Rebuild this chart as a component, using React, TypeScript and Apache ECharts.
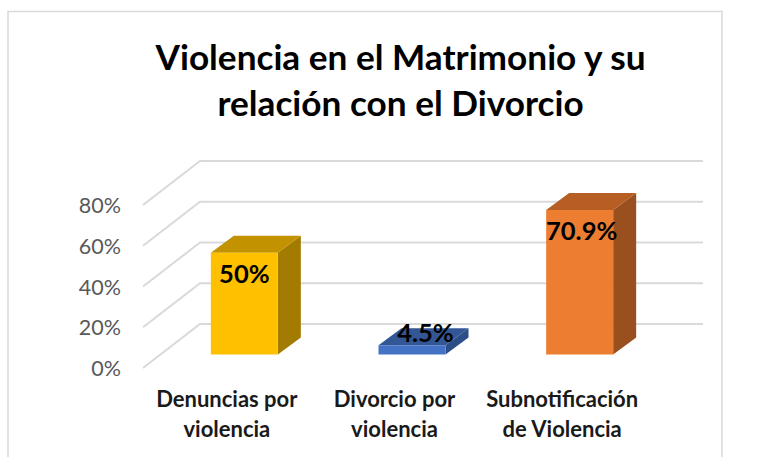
import React, { useEffect, useRef } from "react";
import * as echarts from "echarts";

const titleText = "Violencia en el Matrimonio y su\nrelación con el Divorcio";
const categories = ["Denuncias por\nviolencia", "Divorcio por\nviolencia", "Subnotificación\nde Violencia"];
const values = [50, 4.5, 70.9];
const valueLabels = ["50%", "4.5%", "70.9%"];
const ticks = [0, 20, 40, 60, 80];
const faceColors = ["#FFC000", "#4472C4", "#ED7D31"];
const topColors = ["#C29200", "#335694", "#B65E24"];
const sideColors = ["#A37B00", "#2C4D88", "#994F1E"];
const labelShiftX = [0, 13.5, 2];
const labelShiftY = [20.5, -13, 20];

const FONT = "Lato, Carlito, Calibri, sans-serif";
const GRID = { left: 143, top: 205, width: 503, height: 163 };
const WALL_DX = 57;
const WALL_DY = -44;
const WALL_RIGHT = 703;
const BAR_DX = 17.5;
const BAR_DY = -13.5;
const BAR_W = 67;
const DEPTH_X = 23;
const DEPTH_Y = -17;

export default function App() {
  const ref = useRef<HTMLDivElement>(null);
  useEffect(() => {
    const chart = echarts.init(ref.current!, undefined, { renderer: "svg" });
    chart.setOption({
      animation: false,
      backgroundColor: "#fff",
      title: {
        text: titleText,
        left: 395.5,
        top: 28,
        textAlign: "center",
        textStyle: { fontFamily: FONT, fontSize: 35.2, fontWeight: "bold", color: "#000", lineHeight: 46 },
      },
      graphic: [
        {
          type: "polyline",
          silent: true,
          z: 0,
          shape: { points: [[8, 470], [8, 11.5], [722, 11.5], [722, 470]] },
          style: { stroke: "#D9D9D9", lineWidth: 1.5, fill: "none" },
        },
      ],
      grid: { ...GRID, containLabel: false },
      xAxis: {
        type: "category",
        data: categories,
        axisLine: { show: false },
        axisTick: { show: false },
        axisLabel: {
          interval: 0,
          margin: 15,
          fontFamily: FONT,
          fontSize: 22,
          fontWeight: "bold",
          color: "#1a1a1a",
          lineHeight: 30,
        },
      },
      yAxis: {
        type: "value",
        min: 0,
        max: 80,
        interval: 20,
        axisLine: { show: false },
        axisTick: { show: false },
        splitLine: { show: false },
        axisLabel: {
          margin: 22,
          fontFamily: FONT,
          fontSize: 21.5,
          color: "#595959",
          padding: [2, 0, 0, 0],
          formatter: (v: number) => `${v}%`,
        },
      },
      series: [
        {
          type: "custom",
          silent: true,
          z: 1,
          data: ticks.map((t) => [0, t]),
          encode: { x: 0, y: 1 },
          clip: false,
          renderItem: (_p: any, api: any) => {
            const y = api.coord([0, api.value(1)])[1];
            const style = { stroke: "#D9D9D9", lineWidth: 2, fill: "none" };
            return {
              type: "polyline",
              shape: {
                points: [
                  [GRID.left, y],
                  [GRID.left + WALL_DX, y + WALL_DY],
                  [WALL_RIGHT, y + WALL_DY],
                ],
              },
              style,
            };
          },
        },
        {
          type: "custom",
          silent: true,
          z: 2,
          data: values.map((v, i) => [i, v]),
          encode: { x: 0, y: 1 },
          clip: false,
          renderItem: (p: any, api: any) => {
            const i = p.dataIndex;
            const top = api.coord([i, api.value(1)]);
            const base = api.coord([i, 0]);
            const x0 = top[0] + BAR_DX - BAR_W / 2;
            const x1 = x0 + BAR_W;
            const yT = top[1] + BAR_DY;
            const yB = base[1] + BAR_DY;
            return {
              type: "group",
              children: [
                {
                  type: "polygon",
                  shape: { points: [[x1, yT], [x1 + DEPTH_X, yT + DEPTH_Y], [x1 + DEPTH_X, yB + DEPTH_Y], [x1, yB]] },
                  style: { fill: sideColors[i] },
                },
                {
                  type: "polygon",
                  shape: { points: [[x0, yT], [x0 + DEPTH_X, yT + DEPTH_Y], [x1 + DEPTH_X, yT + DEPTH_Y], [x1, yT]] },
                  style: { fill: topColors[i] },
                },
                { type: "rect", shape: { x: x0, y: yT, width: BAR_W, height: yB - yT }, style: { fill: faceColors[i] } },
                {
                  type: "text",
                  x: (x0 + x1) / 2 + labelShiftX[i],
                  y: yT + labelShiftY[i],
                  style: {
                    text: valueLabels[i],
                    fontFamily: FONT,
                    fontSize: 25.5,
                    fontWeight: "bold",
                    fill: "#000",
                    align: "center",
                    verticalAlign: "middle",
                  },
                },
              ],
            };
          },
        },
      ],
    });
    return () => chart.dispose();
  }, []);
  return <div ref={ref} style={{ position: "absolute", left: 0, top: 0, width: 775, height: 457 }} />;
}
